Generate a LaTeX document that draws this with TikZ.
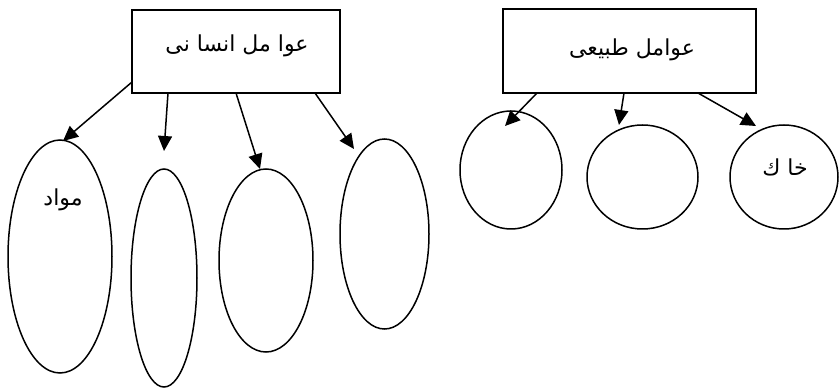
\documentclass[tikz,border=0pt]{standalone}
\usepackage{fontspec}
\newfontfamily\arabicfont[Script=Arabic]{DejaVu Sans}
\TeXXeTstate=1
\usetikzlibrary{shapes.geometric,arrows.meta}
\begin{document}
\begin{tikzpicture}[x=1pt,y=-1pt,
  box/.style={draw,line width=1.6pt,rectangle,inner sep=0pt},
  ell/.style={draw,line width=1.5pt,ellipse,inner sep=0pt},
  arr/.style={line width=1.5pt,-{Triangle[length=15pt,width=14pt]}},
  lbl/.style={font=\arabicfont\fontsize{22}{26}\selectfont,inner sep=0pt}]
\useasboundingbox (0,0) rectangle (839,390);
% left group
\node[box,minimum width=208,minimum height=83] (L) at (236,51.5) {};
\node[lbl] (Lt) at (237,46) {\beginR عوا مل انسا نی\endR};
\node[ell,minimum width=104,minimum height=233] (e1) at (60,256.5) {};
\node[ell,minimum width=66,minimum height=218] (e2) at (164,278) {};
\node[ell,minimum width=94,minimum height=183] (e3) at (266,260.5) {};
\node[ell,minimum width=89,minimum height=190] (e4) at (384.5,234) {};
\node[lbl] (t1) at (63,200) {\beginR مواد\endR};
\coordinate (s1) at (132,82);
\coordinate (d1) at (63,141);
\coordinate (s2) at (168,93);
\coordinate (d2) at (164,151);
\coordinate (s3) at (236,93);
\coordinate (d3) at (260,169);
\coordinate (s4) at (315,93);
\coordinate (d4) at (354,149);
\draw[arr] (s1) -- (d1);
\draw[arr] (s2) -- (d2);
\draw[arr] (s3) -- (d3);
\draw[arr] (s4) -- (d4);
% right group
\node[box,minimum width=253,minimum height=84] (R) at (629.5,51) {};
\node[lbl] (Rt) at (632,50) {\beginR عوامل طبیعی\endR};
\node[ell,minimum width=102,minimum height=118] (c1) at (511,170) {};
\node[ell,minimum width=111,minimum height=104] (c2) at (642.5,177) {};
\node[ell,minimum width=108,minimum height=104] (c3) at (784,177) {};
\node[lbl] (t2) at (785,167) {\beginR خا ك\endR};
\coordinate (s5) at (537,93);
\coordinate (d5) at (505,126);
\coordinate (s6) at (624,93);
\coordinate (d6) at (619,125);
\coordinate (s7) at (698,93);
\coordinate (d7) at (756,126);
\draw[arr] (s5) -- (d5);
\draw[arr] (s6) -- (d6);
\draw[arr] (s7) -- (d7);
\end{tikzpicture}
\end{document}
